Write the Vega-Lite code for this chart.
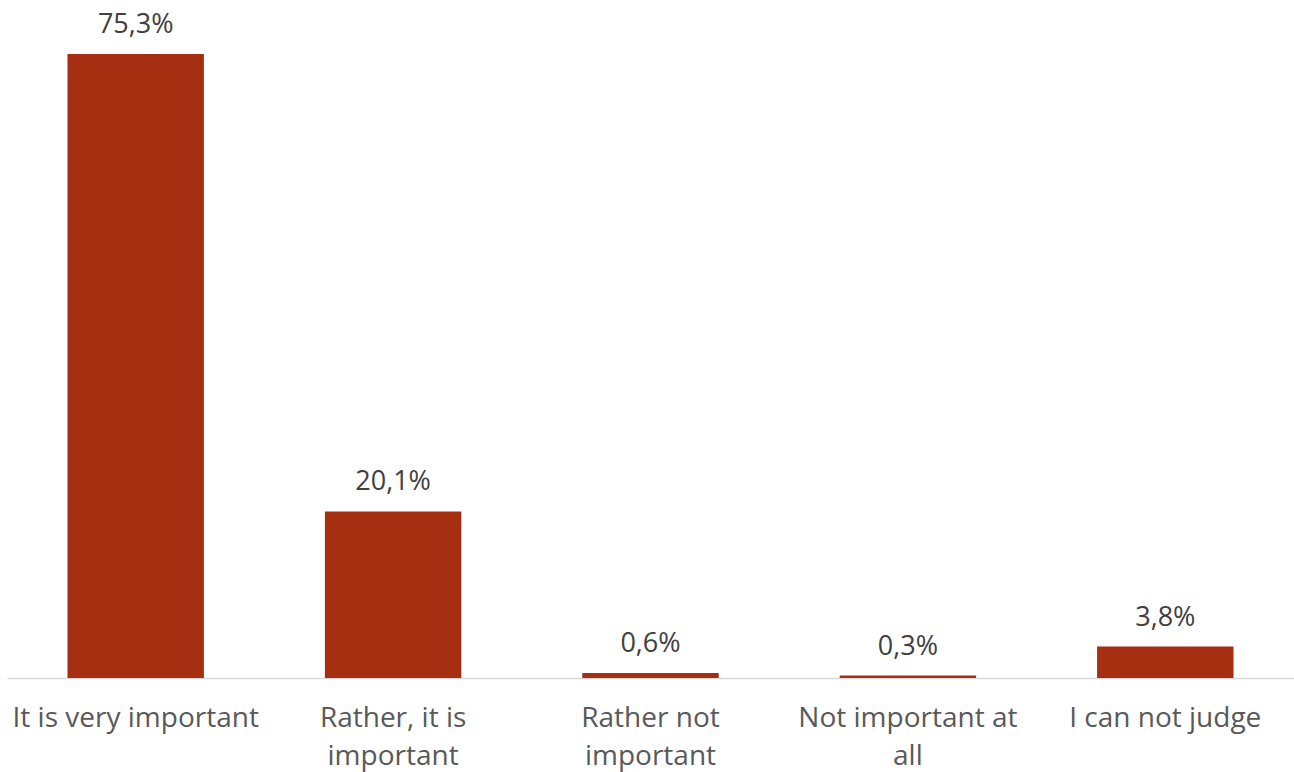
{
  "$schema": "https://vega.github.io/schema/vega-lite/v6.json",
  "autosize": "none",
  "width": 1287,
  "height": 663,
  "padding": {"left": 7, "top": 15, "right": 0, "bottom": 94},
  "background": "white",
  "config": {
    "view": {"stroke": null},
    "locale": {"number": {"decimal": ",", "thousands": " ", "grouping": [3], "currency": ["", ""]}},
    "font": "Open Sans"
  },
  "data": {
    "values": [
      {"category": "It is very important", "share": 0.753},
      {"category": "Rather, it is important", "share": 0.201},
      {"category": "Rather not important", "share": 0.006},
      {"category": "Not important at all", "share": 0.003},
      {"category": "I can not judge", "share": 0.038}
    ]
  },
  "encoding": {
    "x": {
      "field": "category",
      "type": "nominal",
      "sort": null,
      "scale": {"paddingInner": 0.47, "paddingOuter": 0.235},
      "axis": {
        "title": null,
        "labelAngle": 0,
        "ticks": false,
        "domainColor": "#D9D9D9",
        "domainWidth": 1.5,
        "labelFont": "Open Sans",
        "labelFontSize": 28,
        "labelColor": "#595959",
        "labelPadding": 26,
        "labelLineHeight": 38,
        "labelLimit": 400,
        "labelExpr": "datum.value == 'Rather, it is important' ? ['Rather, it is', 'important'] : datum.value == 'Rather not important' ? ['Rather not', 'important'] : datum.value == 'Not important at all' ? ['Not important at', 'all'] : datum.value"
      }
    },
    "y": {
      "field": "share",
      "type": "quantitative",
      "scale": {"domain": [0, 0.8], "nice": false},
      "axis": null
    }
  },
  "layer": [
    {"mark": {"type": "bar", "color": "#A52F10"}},
    {
      "mark": {"type": "text", "baseline": "alphabetic", "dy": -21, "fontSize": 27, "color": "#404040", "font": "Open Sans"},
      "encoding": {"text": {"field": "share", "type": "quantitative", "format": ".1%"}}
    }
  ]
}
